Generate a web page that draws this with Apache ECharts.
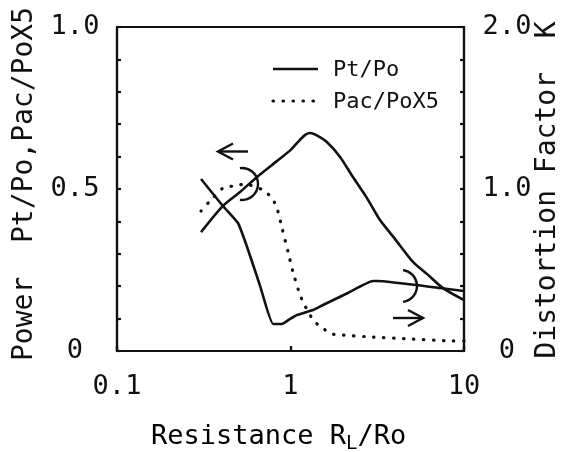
<!DOCTYPE html>
<html>
<head>
<meta charset="utf-8">
<script src="https://cdn.jsdelivr.net/npm/echarts@6/dist/echarts.min.js"></script>
<style>
  html, body { margin: 0; padding: 0; background: #fff; }
  #chart { width: 571px; height: 452px; }
</style>
</head>
<body>
<div id="chart"></div>
<script>
// Load resistance R_L/Ro (log scale) for each curve
const ptX  = [0.305, 0.408, 0.512, 0.641, 0.834, 1.0, 1.13, 1.22, 1.30, 1.40, 1.62, 1.93, 2.29, 2.76, 3.28, 4.00, 5.08, 6.2, 7.57, 10];
// Output power ratio Pt/Po (left axis)
const ptY  = [0.367, 0.448, 0.491, 0.537, 0.586, 0.62, 0.651, 0.668, 0.673, 0.667, 0.645, 0.599, 0.537, 0.472, 0.404, 0.346, 0.275, 0.235, 0.194, 0.157];

const pacX = [0.305, 0.339, 0.408, 0.466, 0.547, 0.694, 0.782, 0.836, 0.893, 0.968, 1.03, 1.12, 1.18, 1.35, 1.52, 1.76, 2.01, 3.0, 5.0, 8.64, 10];
// AC power ratio Pac/Po multiplied by 5 (left axis)
const pacY = [0.432, 0.460, 0.503, 0.509, 0.515, 0.497, 0.472, 0.441, 0.380, 0.306, 0.247, 0.182, 0.151, 0.096, 0.071, 0.052, 0.049, 0.043, 0.037, 0.031, 0.031];

const kX   = [0.305, 0.408, 0.498, 0.562, 0.667, 0.794, 0.893, 0.995, 1.09, 1.35, 1.54, 2.14, 2.99, 3.15, 7.27, 10];
// Distortion factor K (right axis)
const kY   = [1.062, 0.895, 0.790, 0.642, 0.404, 0.167, 0.167, 0.198, 0.222, 0.253, 0.284, 0.358, 0.432, 0.432, 0.389, 0.370];

// Tick labels
const xTicks = [0.1, 1, 10];
const leftLabels  = { 0: '0', 0.5: '0.5', 1: '1.0' };
const rightLabels = { 0: '0', 1: '1.0', 2: '2.0' };
const legendNames = ['Pt/Po', 'Pac/PoX5'];

const FONT = 'DejaVu Sans Mono';
const INK = '#111';
const LW = 2.6;
const DOTS = { width: 3.2, type: [0.5, 9.5], cap: 'round' };

const zip = (xs, ys) => xs.map((x, i) => [x, ys[i]]);
const pick = (table) => (v) => {
  for (const k in table) if (Math.abs(v - Number(k)) < 1e-6) return table[k];
  return '';
};

const chart = echarts.init(document.getElementById('chart'), null, { renderer: 'canvas' });

chart.setOption({
  animation: false,
  backgroundColor: '#fff',
  grid: {
    left: 117, right: 107, top: 27, bottom: 101,
    show: true, borderColor: INK, borderWidth: 2.2, backgroundColor: 'transparent'
  },
  xAxis: {
    type: 'log', logBase: 10, min: 0.1, max: 10,
    axisLine: { show: true, lineStyle: { color: INK, width: 2.2 } },
    axisTick: { show: true, inside: true, length: 5, lineStyle: { color: INK, width: 2.4 } },
    splitLine: { show: false },
    axisLabel: {
      fontFamily: FONT, fontSize: 27, color: INK, margin: 22,
      formatter: (v) => {
        const hit = xTicks.find(t => Math.abs(t - v) / t < 1e-6);
        return hit === undefined ? '' : String(hit);
      }
    }
  },
  yAxis: [
    {
      type: 'value', min: 0, max: 1, interval: 0.1, position: 'left',
      axisLine: { show: true, lineStyle: { color: INK, width: 2.2 } },
      axisTick: { show: true, inside: true, length: 4, lineStyle: { color: INK, width: 2.2 } },
      splitLine: { show: false },
      axisLabel: { fontFamily: FONT, fontSize: 27, color: INK, align: 'center', margin: 42, formatter: pick(leftLabels) }
    },
    {
      type: 'value', min: 0, max: 2, interval: 0.2, position: 'right',
      axisLine: { show: true, lineStyle: { color: INK, width: 2.2 } },
      axisTick: { show: true, inside: true, length: 4, lineStyle: { color: INK, width: 2.2 } },
      splitLine: { show: false },
      axisLabel: { fontFamily: FONT, fontSize: 27, color: INK, align: 'center', margin: 43, formatter: pick(rightLabels) }
    }
  ],
  series: [
    {
      name: legendNames[0], type: 'line', yAxisIndex: 0, symbol: 'none', smooth: 0.25,
      lineStyle: { color: INK, width: LW },
      data: zip(ptX, ptY)
    },
    {
      name: legendNames[1], type: 'line', yAxisIndex: 0, symbol: 'none', smooth: 0.2,
      lineStyle: Object.assign({ color: INK }, DOTS),
      data: zip(pacX, pacY)
    },
    {
      name: 'K', type: 'line', yAxisIndex: 1, symbol: 'none', smooth: 0.15,
      lineStyle: { color: INK, width: LW },
      data: zip(kX, kY)
    }
  ],
  graphic: [
    // axis titles
    {
      type: 'text', x: 25, y: 184, rotation: Math.PI / 2,
      style: { text: 'Power  Pt/Po,Pac/PoX5', font: `28px "${FONT}"`, fill: INK, align: 'center', verticalAlign: 'middle' }
    },
    {
      type: 'text', x: 548, y: 190, rotation: Math.PI / 2,
      style: { text: 'Distortion Factor  K', font: `28px "${FONT}"`, fill: INK, align: 'center', verticalAlign: 'middle' }
    },
    {
      type: 'text', x: 151, y: 437,
      style: {
        text: '{a|Resistance R}{s|L}{a|/Ro}',
        verticalAlign: 'middle', align: 'left',
        rich: {
          a: { fontFamily: FONT, fontSize: 27, color: INK },
          s: { fontFamily: FONT, fontSize: 19, color: INK, padding: [14, 0, 0, 0] }
        }
      }
    },
    // key
    {
      type: 'line', shape: { x1: 273, y1: 69, x2: 318, y2: 69 },
      style: { stroke: INK, lineWidth: LW }
    },
    {
      type: 'text', x: 333, y: 70,
      style: { text: legendNames[0], font: `22px "${FONT}"`, fill: INK, align: 'left', verticalAlign: 'middle' }
    },
    {
      type: 'line', shape: { x1: 273, y1: 101, x2: 320, y2: 101 },
      style: { stroke: INK, lineWidth: DOTS.width, lineDash: DOTS.type, lineCap: 'round' }
    },
    {
      type: 'text', x: 333, y: 102,
      style: { text: legendNames[1], font: `22px "${FONT}"`, fill: INK, align: 'left', verticalAlign: 'middle' }
    },
    // arrow pointing to the left axis
    {
      type: 'polyline', shape: { points: [[218, 151.5], [248, 151.5]] },
      style: { stroke: INK, lineWidth: 2.4, fill: null }
    },
    {
      type: 'polyline', shape: { points: [[233, 143.5], [218, 151.5], [233, 159.5]] },
      style: { stroke: INK, lineWidth: 2.4, fill: null }
    },
    // arrow pointing to the right axis
    {
      type: 'polyline', shape: { points: [[393, 318], [423, 318]] },
      style: { stroke: INK, lineWidth: 2.4, fill: null }
    },
    {
      type: 'polyline', shape: { points: [[408, 310], [423, 318], [408, 326]] },
      style: { stroke: INK, lineWidth: 2.4, fill: null }
    },
    // curve brackets
    {
      type: 'arc', shape: { cx: 242, cy: 184, r: 16, startAngle: -1.7, endAngle: 1.7, clockwise: true },
      style: { stroke: INK, lineWidth: 2.4, fill: null }
    },
    {
      type: 'arc', shape: { cx: 401, cy: 286, r: 16, startAngle: Math.PI - 1.7, endAngle: Math.PI + 1.7, clockwise: false },
      style: { stroke: INK, lineWidth: 2.4, fill: null }
    }
  ]
});
</script>
</body>
</html>
